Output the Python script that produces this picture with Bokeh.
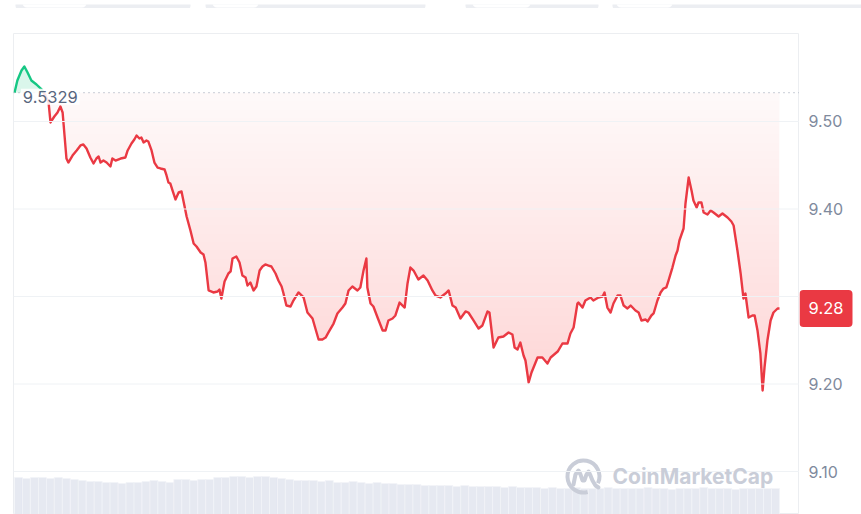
import numpy as np
from bokeh.plotting import figure
from bokeh.layouts import row, column
from bokeh.models import Range1d, Span, Label
from bokeh.core.properties import value
from bokeh.embed import file_html
from bokeh.resources import INLINE

# ---------------- data ----------------
hours = [
    0.00, 0.09, 0.22, 0.31, 0.41, 0.53, 0.69, 0.85, 0.97, 1.07,
    1.13, 1.25, 1.35, 1.44, 1.51, 1.57, 1.63, 1.69, 1.82, 1.95,
    2.07, 2.16, 2.26, 2.38, 2.48, 2.57, 2.64, 2.70, 2.79, 2.89,
    3.01, 3.07, 3.17, 3.33, 3.48, 3.55, 3.67, 3.76, 3.83, 3.92,
    3.98, 4.05, 4.14, 4.20, 4.30, 4.39, 4.49, 4.58, 4.71, 4.77,
    4.83, 4.89, 4.96, 5.05, 5.15, 5.24, 5.33, 5.40, 5.52, 5.62,
    5.71, 5.84, 5.93, 5.99, 6.09, 6.24, 6.37, 6.43, 6.49, 6.59,
    6.71, 6.78, 6.84, 6.96, 7.06, 7.15, 7.25, 7.31, 7.40, 7.50,
    7.59, 7.69, 7.78, 7.87, 7.97, 8.06, 8.19, 8.28, 8.38, 8.44,
    8.53, 8.66, 8.75, 8.91, 9.07, 9.19, 9.35, 9.44, 9.54, 9.66,
    9.76, 9.85, 10.01, 10.13, 10.29, 10.38, 10.48, 10.60, 10.76, 10.85,
    10.95, 11.04, 11.07, 11.17, 11.26, 11.39, 11.55, 11.64, 11.73, 11.86,
    11.95, 12.08, 12.24, 12.33, 12.42, 12.52, 12.67, 12.83, 12.96, 13.11,
    13.21, 13.36, 13.52, 13.62, 13.74, 13.84, 13.99, 14.15, 14.24, 14.40,
    14.56, 14.68, 14.84, 14.90, 15.03, 15.18, 15.34, 15.50, 15.62, 15.69,
    15.78, 15.87, 15.97, 16.03, 16.13, 16.22, 16.41, 16.56, 16.72, 16.82,
    17.04, 17.19, 17.35, 17.44, 17.54, 17.66, 17.69, 17.82, 17.91, 18.07,
    18.16, 18.32, 18.45, 18.51, 18.60, 18.70, 18.79, 18.92, 19.01, 19.11,
    19.23, 19.33, 19.48, 19.58, 19.67, 19.80, 19.86, 19.98, 20.05, 20.17,
    20.27, 20.36, 20.45, 20.52, 20.64, 20.74, 20.80, 20.86, 20.99, 21.05,
    21.15, 21.24, 21.30, 21.40, 21.46, 21.55, 21.62, 21.74, 21.84, 21.93,
    22.09, 22.21, 22.37, 22.49, 22.56, 22.68, 22.78, 22.87, 22.93, 23.03,
    23.15, 23.22, 23.31, 23.40, 23.47, 23.53, 23.62, 23.72, 23.81, 23.94,
    24.00,
]
price = [
    9.5329, 9.5469, 9.5583, 9.5629, 9.5560, 9.5469, 9.5423, 9.5366, 9.5297, 9.5217,
    9.4989, 9.5057, 9.5103, 9.5171, 9.5103, 9.4840, 9.4577, 9.4531, 9.4611, 9.4669,
    9.4726, 9.4737, 9.4691, 9.4589, 9.4520, 9.4577, 9.4600, 9.4531, 9.4554, 9.4531,
    9.4486, 9.4577, 9.4554, 9.4577, 9.4589, 9.4669, 9.4749, 9.4794, 9.4840, 9.4806,
    9.4817, 9.4760, 9.4783, 9.4771, 9.4669, 9.4531, 9.4474, 9.4463, 9.4451, 9.4383,
    9.4303, 9.4291, 9.4211, 9.4109, 9.4189, 9.4200, 9.4040, 9.3914, 9.3754, 9.3606,
    9.3571, 9.3503, 9.3480, 9.3389, 9.3069, 9.3046, 9.3057, 9.3080, 9.2977, 9.3171,
    9.3263, 9.3286, 9.3434, 9.3457, 9.3389, 9.3240, 9.3217, 9.3126, 9.3160, 9.3069,
    9.3114, 9.3297, 9.3343, 9.3366, 9.3354, 9.3343, 9.3263, 9.3183, 9.3114, 9.3034,
    9.2897, 9.2886, 9.2954, 9.3046, 9.2989, 9.2817, 9.2749, 9.2634, 9.2509, 9.2509,
    9.2531, 9.2589, 9.2691, 9.2806, 9.2874, 9.2920, 9.3069, 9.3114, 9.3069, 9.3103,
    9.3297, 9.3434, 9.3103, 9.2920, 9.2886, 9.2760, 9.2611, 9.2611, 9.2726, 9.2749,
    9.2783, 9.2931, 9.2874, 9.3149, 9.3331, 9.3297, 9.3194, 9.3240, 9.3183, 9.3069,
    9.3011, 9.2989, 9.3034, 9.3069, 9.2897, 9.2874, 9.2749, 9.2829, 9.2817, 9.2726,
    9.2634, 9.2669, 9.2829, 9.2817, 9.2417, 9.2531, 9.2543, 9.2589, 9.2566, 9.2417,
    9.2394, 9.2474, 9.2326, 9.2269, 9.2017, 9.2131, 9.2303, 9.2303, 9.2234, 9.2303,
    9.2371, 9.2463, 9.2463, 9.2577, 9.2646, 9.2920, 9.2931, 9.2874, 9.2954, 9.2989,
    9.2954, 9.2989, 9.3000, 9.3046, 9.2874, 9.2817, 9.2920, 9.3011, 9.3011, 9.2897,
    9.2863, 9.2897, 9.2840, 9.2817, 9.2726, 9.2737, 9.2714, 9.2783, 9.2806, 9.2954,
    9.3046, 9.3091, 9.3103, 9.3183, 9.3331, 9.3469, 9.3526, 9.3640, 9.3777, 9.4063,
    9.4360, 9.4211, 9.4097, 9.4017, 9.4074, 9.4074, 9.3960, 9.3937, 9.3983, 9.3960,
    9.3914, 9.3949, 9.3903, 9.3857, 9.3811, 9.3526, 9.3263, 9.2977, 9.3034, 9.2760,
    9.2783, 9.2783, 9.2611, 9.2349, 9.1926, 9.2189, 9.2497, 9.2726, 9.2817, 9.2863,
    9.2863,
]
open_price = 9.5329
open_text = "9.5329"
last_text = "9.28"
y_ticks = [9.10, 9.20, 9.30, 9.40, 9.50]
y_tick_labels = ["9.10", "9.20", "9.30", "9.40", "9.50"]

# volume, one bar per 15 minutes
vol_step = 0.25
volume = [
    37, 36, 37, 37, 36, 37, 36, 35, 34, 33,
    33, 32, 32, 31, 32, 32, 33, 34, 33, 32,
    35, 35, 34, 35, 35, 37, 37, 38, 38, 37,
    38, 38, 37, 36, 35, 34, 34, 34, 33, 34,
    32, 32, 33, 32, 31, 32, 31, 31, 30, 30,
    30, 29, 29, 29, 29, 28, 29, 28, 28, 28,
    28, 27, 28, 27, 27, 27, 26, 27, 26, 26,
    27, 26, 26, 26, 27, 26, 26, 26, 26, 27,
    26, 26, 25, 26, 26, 26, 27, 26, 26, 26,
    25, 26, 26, 26, 26, 26,
]
vol_hours = [(i + 0.5) * vol_step for i in range(len(volume))]

RED = "#ea3943"
GREEN = "#16c784"
AXIS_TXT = "#808a9d"
WM = "#c9cdd8"
FONT = "Inter"

STRIP = 8          # height of the page's tab strip above the chart
H = 514 - STRIP
TOP = 25
yr = Range1d(9.05086, 9.60057)

# ---------------- tab strip above the chart (page chrome) ----------------
top = figure(width=861, height=STRIP, output_backend="svg", toolbar_location=None,
             x_range=Range1d(0, 861), y_range=Range1d(STRIP, 0),
             x_axis_location=None, y_axis_location=None,
             min_border_left=0, min_border_right=0, min_border_top=0, min_border_bottom=0)
top.outline_line_color = None
top.grid.visible = False
top.background_fill_color = "white"
top.border_fill_color = "white"
tab_left = [15, 205, 465, 612]
tab_right = [190, 425, 598, 875]
pill_left = [22, 212, 472, 616]
pill_right = [86, 258, 530, 672]
top.quad(left=tab_left, right=tab_right, top=-6, bottom=7, fill_color="#eceef2",
         line_color=None, border_radius=6)
top.quad(left=pill_left, right=pill_right, top=-6, bottom=3, fill_color="white",
         line_color=None, border_radius=5)

# ---------------- main figure ----------------
p = figure(
    width=799, height=H, output_backend="svg", toolbar_location=None,
    x_range=Range1d(-0.031, 24.627), y_range=yr,
    x_axis_location=None, y_axis_location=None,
    min_border_left=13, min_border_right=0, min_border_top=TOP, min_border_bottom=0,
)
p.background_fill_color = "white"
p.border_fill_color = "white"
p.outline_line_color = "#eceef1"
p.outline_line_width = 1
p.xgrid.visible = False
p.ygrid.visible = False
for t in y_ticks:
    p.add_layout(Span(location=t, dimension="width", line_color="#eff2f5", line_width=1))

# volume bars
p.extra_y_ranges = {"vol": Range1d(0, 481)}
p.vbar(x=vol_hours, top=volume, width=vol_step, bottom=0, y_range_name="vol",
       fill_color="#e6e9f1", line_color="#f2f4f8", line_width=0.7)

# split series at the opening level
h = np.array(hours, dtype=float)
pr = np.array(price, dtype=float)
xs, ys = [h[0]], [pr[0]]
cross = None
for i in range(1, len(h)):
    a, b = pr[i - 1] - open_price, pr[i] - open_price
    if a * b < 0:
        t = a / (a - b)
        xs.append(h[i - 1] + t * (h[i] - h[i - 1]))
        ys.append(open_price)
        if cross is None:
            cross = len(xs) - 1
    xs.append(h[i])
    ys.append(pr[i])
xs = np.array(xs)
ys = np.array(ys)
if cross is None:
    cross = 0

# red gradient fill between line and opening level
low = ys.min()
p.varea(x=xs, y1=np.minimum(ys, open_price), y2=open_price,
        fill_color=RED, fill_alpha=0.03)
n = 36
d = (open_price - low) / n
for k in range(1, n + 1):
    hk = open_price - k * d
    p.varea(x=xs, y1=np.minimum(ys, hk), y2=hk, fill_color=RED, fill_alpha=0.0058)

# green fill above opening level
p.varea(x=xs, y1=open_price, y2=np.maximum(ys, open_price),
        fill_color=GREEN, fill_alpha=0.16)

# dotted baseline
p.add_layout(Span(location=open_price, dimension="width", line_color="#a9b0bf",
                  line_dash="1 4", line_width=1.3))

# price line
p.line(xs[:cross + 1], ys[:cross + 1], line_color=GREEN, line_width=2.4, line_join="round")
p.line(xs[cross:], ys[cross:], line_color=RED, line_width=2.4, line_join="round")

# opening price label
p.add_layout(Label(x=0.20, y=open_price, text=open_text, text_font=FONT,
                   text_font_size="16.5px", text_color="#58667e",
                   text_align="left", text_baseline="middle", y_offset=-4,
                   background_fill_color="white", background_fill_alpha=0.85,
                   padding=2))

# watermark
wx, wy = 17.85, 9.0943
p.arc(x=[wx], y=[wy], radius=16, radius_units="screen",
      start_angle=np.deg2rad(-25), end_angle=np.deg2rad(285), direction="anticlock",
      line_color=WM, line_width=4)
wave_dx = [-10, -8, -5, -3, -1, 1, 3, 5, 7, 9, 12, 15]
wave_dy = [8, -2, -6, -2, 4, 4, -2, -5, -1, 4, 9, 11]
p.line([wx + dx / 31.875 for dx in wave_dx], [wy - dy / 875.0 for dy in wave_dy],
       line_color=WM, line_width=4, line_join="round", line_cap="round")
p.add_layout(Label(x=18.76, y=wy, text="CoinMarketCap", text_font=FONT,
                   text_font_style="bold", text_font_size="21px", text_color=WM,
                   text_align="left", text_baseline="middle"))

# ---------------- right price-scale strip ----------------
q = figure(
    width=62, height=H, output_backend="svg", toolbar_location=None,
    x_range=Range1d(0, 62), y_range=yr,
    x_axis_location=None, y_axis_location=None,
    min_border_left=0, min_border_right=0, min_border_top=TOP, min_border_bottom=0,
)
q.background_fill_color = "white"
q.border_fill_color = "white"
q.outline_line_color = None
q.xgrid.visible = False
q.ygrid.visible = False
q.text(x=[9] * len(y_ticks), y=y_ticks, text=y_tick_labels,
       text_font=value(FONT), text_font_size="16px", text_color=AXIS_TXT,
       text_align="left", text_baseline="middle")
# last-price badge (covers the neighbouring tick label, as in the reference)
q.rect(x=[26.5], y=[price[-1]], width=53, height=37, height_units="screen",
       fill_color=RED, line_color=None, border_radius=4)
q.text(x=[26.5], y=[price[-1]], text=[last_text], text_font=value(FONT),
       text_font_size="16.5px", text_color="white",
       text_align="center", text_baseline="middle")

layout = column(top, row(p, q, spacing=0), spacing=0)
open("out.html", "w").write(file_html(layout, INLINE))
